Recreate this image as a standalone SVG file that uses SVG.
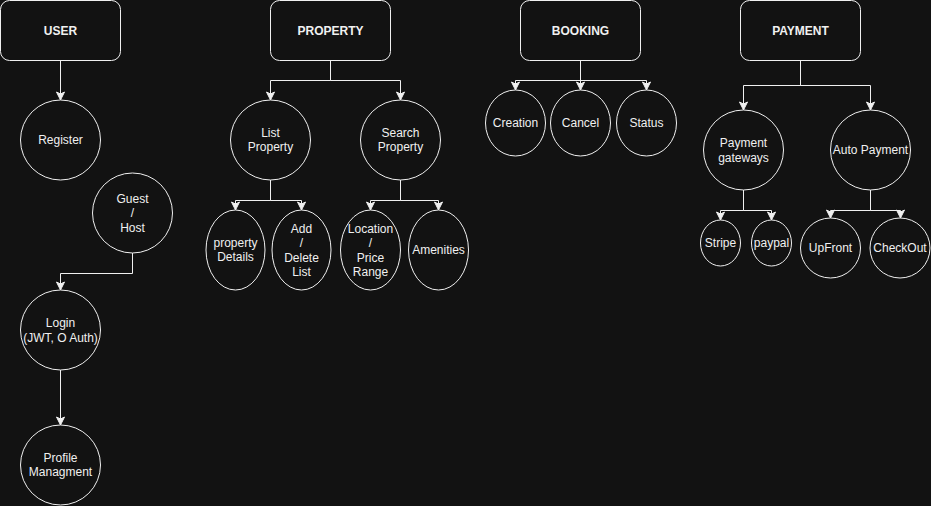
<svg xmlns="http://www.w3.org/2000/svg" width="931" height="506" viewBox="0 0 931 506">
<defs>
<marker id="arr" markerUnits="userSpaceOnUse" markerWidth="10" markerHeight="10" viewBox="0 0 10 10" refX="9" refY="5" orient="auto">
<path d="M1,1 L9,5 L1,9 L3,5 Z" fill="#f0f0f0" stroke="#f0f0f0" stroke-width="1"/>
</marker>
<style>
.bg{fill:#121212}
.box{fill:#121212;stroke:#f0f0f0;stroke-width:1}
.nd{fill:#121212;stroke:#f0f0f0;stroke-width:1}
.c{fill:none;stroke:#f0f0f0;stroke-width:1;marker-end:url(#arr)}
text{font-family:"Liberation Sans",Helvetica,Arial,sans-serif;font-size:12px;fill:#f0f0f0;text-anchor:middle;dominant-baseline:central}
.t{font-weight:bold}
</style>
</defs>
<rect class="bg" x="0" y="0" width="931" height="506"/>
<g id="connectors">
<path class="c" d="M60.5,60.5 V100"/>
<path class="c" d="M132.5,253 V273.5 H60.5 V290"/>
<path class="c" d="M60.5,370 V425"/>
<path class="c" d="M330.5,60.5 V80.5 H270.5 V100"/>
<path class="c" d="M330.5,60.5 V80.5 H400.5 V100"/>
<path class="c" d="M270.5,180 V200.5 H235.5 V210"/>
<path class="c" d="M270.5,180 V200.5 H301.5 V210"/>
<path class="c" d="M400.5,180 V200.5 H370.5 V210"/>
<path class="c" d="M400.5,180 V200.5 H438.5 V210"/>
<path class="c" d="M580.5,60.5 V80.5 H515.5 V90"/>
<path class="c" d="M580.5,60.5 V90"/>
<path class="c" d="M580.5,60.5 V80.5 H646.5 V90"/>
<path class="c" d="M800.5,60.5 V85.5 H743.5 V110"/>
<path class="c" d="M800.5,60.5 V85.5 H870.5 V110"/>
<path class="c" d="M743.5,190 V210.5 H720.5 V220"/>
<path class="c" d="M743.5,190 V210.5 H771.5 V220"/>
<path class="c" d="M870.5,190 V210.5 H830.5 V218"/>
<path class="c" d="M870.5,190 V210.5 H900.5 V218"/>
</g>
<g id="user"><rect class="box" x="0.5" y="0.5" width="120" height="60" rx="9"/><text class="t" x="60.5" y="30.5">USER</text></g>
<g id="register"><circle class="nd" cx="60.5" cy="140" r="40"/><text x="60.5" y="140">Register</text></g>
<g id="guest"><circle class="nd" cx="132.5" cy="213" r="40"/><text x="132.5" y="198.5">Guest</text><text x="132.5" y="213">/</text><text x="132.5" y="227.5">Host</text></g>
<g id="login"><circle class="nd" cx="60.5" cy="330" r="40"/><text x="60.5" y="323">Login</text><text x="60.5" y="337.5">(JWT, O Auth)</text></g>
<g id="profile"><circle class="nd" cx="60.5" cy="465" r="40"/><text x="60.5" y="457.5">Profile</text><text x="60.5" y="472">Managment</text></g>
<g id="property"><rect class="box" x="270.5" y="0.5" width="120" height="60" rx="9"/><text class="t" x="330.5" y="30.5">PROPERTY</text></g>
<g id="listprop"><circle class="nd" cx="270.5" cy="140" r="40"/><text x="270.5" y="132.5">List</text><text x="270.5" y="147">Property</text></g>
<g id="searchprop"><circle class="nd" cx="400.5" cy="140" r="40"/><text x="400.5" y="132.5">Search</text><text x="400.5" y="147">Property</text></g>
<g id="propdetails"><ellipse class="nd" cx="235.5" cy="250" rx="29.5" ry="40"/><text x="235.5" y="242.5">property</text><text x="235.5" y="257">Details</text></g>
<g id="adddelete"><ellipse class="nd" cx="301.5" cy="250" rx="29.5" ry="40"/><text x="301.5" y="228.5">Add</text><text x="301.5" y="243">/</text><text x="301.5" y="257.5">Delete</text><text x="301.5" y="272">List</text></g>
<g id="location"><ellipse class="nd" cx="370.5" cy="250" rx="30" ry="40"/><text x="370.5" y="228.5">Location</text><text x="370.5" y="243">/</text><text x="370.5" y="257.5">Price</text><text x="370.5" y="272">Range</text></g>
<g id="amenities"><ellipse class="nd" cx="438.5" cy="250" rx="30" ry="40"/><text x="438.5" y="250">Amenities</text></g>
<g id="booking"><rect class="box" x="520.5" y="0.5" width="120" height="60" rx="9"/><text class="t" x="580.5" y="30.5">BOOKING</text></g>
<g id="creation"><ellipse class="nd" cx="515.5" cy="123" rx="30" ry="33"/><text x="515.5" y="123">Creation</text></g>
<g id="cancel"><ellipse class="nd" cx="580.5" cy="123" rx="30" ry="33"/><text x="580.5" y="123">Cancel</text></g>
<g id="status"><ellipse class="nd" cx="646.5" cy="123" rx="30" ry="33"/><text x="646.5" y="123">Status</text></g>
<g id="payment"><rect class="box" x="740.5" y="0.5" width="120" height="60" rx="9"/><text class="t" x="800.5" y="30.5">PAYMENT</text></g>
<g id="gateways"><circle class="nd" cx="743.5" cy="150" r="40"/><text x="743.5" y="143">Payment</text><text x="743.5" y="157.5">gateways</text></g>
<g id="autopay"><circle class="nd" cx="870.5" cy="150" r="40"/><text x="870.5" y="150">Auto Payment</text></g>
<g id="stripe"><ellipse class="nd" cx="720.5" cy="243" rx="20" ry="23"/><text x="720.5" y="243">Stripe</text></g>
<g id="paypal"><ellipse class="nd" cx="771.5" cy="243" rx="20" ry="23"/><text x="771.5" y="243">paypal</text></g>
<g id="upfront"><ellipse class="nd" cx="830.5" cy="248" rx="30" ry="30"/><text x="830.5" y="248">UpFront</text></g>
<g id="checkout"><ellipse class="nd" cx="900" cy="248" rx="30" ry="30"/><text x="900" y="248">CheckOut</text></g>
</svg>
